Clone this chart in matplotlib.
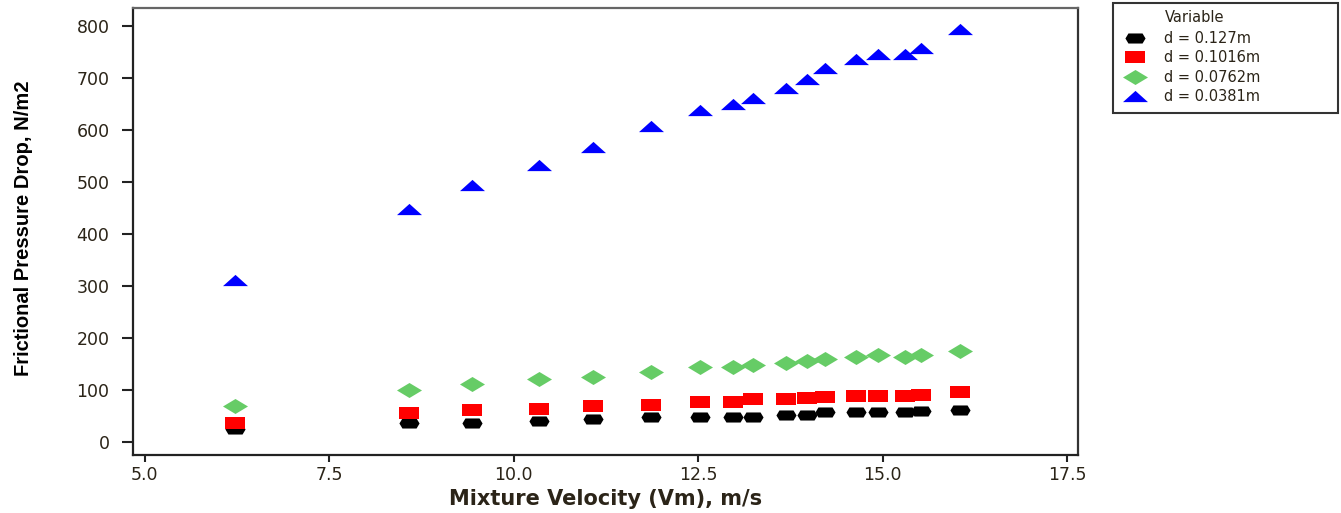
import matplotlib
matplotlib.use('Agg')
import matplotlib.pyplot as plt
from matplotlib.patches import Rectangle

#################
### DATA ###
#################

vm = [6.22, 8.58, 9.44, 10.34, 11.07, 11.86, 12.52, 12.98, 13.25,
      13.69, 13.97, 14.22, 14.64, 14.94, 15.30, 15.52, 16.05]

dp_0127 = [25, 35, 36.5, 40, 43, 47, 47, 47, 47,
           51, 51, 56, 57.5, 56, 56, 59, 61]
dp_01016 = [35, 55, 60, 63.5, 68.5, 70.5, 77, 77, 81.5,
            82, 83.5, 86.5, 88.5, 88.5, 88.5, 90, 94.5]
dp_00762 = [67.5, 99.5, 110, 121, 125, 133, 143, 144, 148,
            151, 156, 158.5, 163.5, 167, 163.5, 167, 175]
dp_00381 = [312, 447, 495, 532, 567, 607, 638, 651, 661,
            680, 698, 720, 736, 747, 747, 757, 794]

series_labels = ['d = 0.127m', 'd = 0.1016m', 'd = 0.0762m', 'd = 0.0381m']
x_ticks = [5.0, 7.5, 10.0, 12.5, 15.0, 17.5]
y_ticks = [0, 100, 200, 300, 400, 500, 600, 700, 800]

#################
### STYLE ###
#################

# squashed markers, like the minitab symbols
blob = [(-1, 0), (-0.7, 0.5), (0, 0.5), (0.7, 0.5), (1, 0), (0.7, -0.5), (0, -0.5), (-0.7, -0.5)]
rect = [(-1, -0.6), (1, -0.6), (1, 0.6), (-1, 0.6)]
diam = [(-1, 0), (0, 0.6), (1, 0), (0, -0.6)]
tri = [(-1, -0.45), (1, -0.45), (0, 0.45)]

styles = [
    (dp_0127, 'black', blob, 14.5),
    (dp_01016, '#ff0000', rect, 14.5),
    (dp_00762, '#66cc66', diam, 18),
    (dp_00381, '#0000ff', tri, 18),
]

txt_col = '#2b2418'
W, H = 1341, 513

#################
### PLOT ###
#################

fig = plt.figure(figsize=(W / 100, H / 100), dpi=100)
ax = fig.add_axes([133 / W, 1 - 455 / H, (1078 - 133) / W, (455 - 8) / H])

handles = []
for (vals, col, mk, ms), lab in zip(styles, series_labels):
    h, = ax.plot(vm, vals, linestyle='none', marker=mk, markersize=ms,
                 color=col, markeredgewidth=0, label=lab)
    handles.append(h)

ax.set_xlim(4.84, 17.65)
ax.set_ylim(-26, 835)
ax.set_xticks(x_ticks)
ax.set_xticklabels(['%.1f' % t for t in x_ticks])
ax.set_yticks(y_ticks)
ax.set_yticklabels([str(t) for t in y_ticks])

ax.tick_params(direction='out', width=1.5, colors='#222222',
               labelsize=12.5, labelcolor=txt_col)
ax.tick_params(axis='x', length=5, pad=3)
ax.tick_params(axis='y', length=8, pad=9)
for s in ax.spines.values():
    s.set_linewidth(1.6)
    s.set_color('#222222')
ax.spines['top'].set_color('#666666')
ax.spines['right'].set_color('#333333')

ax.set_xlabel('Mixture Velocity (Vm), m/s', fontsize=15, fontweight='bold',
              color=txt_col)
ax.xaxis.set_label_coords(0.5, -(489 - 455) / 447)
ax.set_ylabel('Frictional Pressure Drop, N/m2', fontsize=14.5, fontweight='bold',
              family=['Liberation Sans', 'DejaVu Sans'], color='black')
ax.yaxis.set_label_coords(-(133 - 33) / 945, 0.508)

# legend box
fig.patches.append(Rectangle((1113 / W, 1 - 113 / H), 225 / W, 110 / H,
                             transform=fig.transFigure, fill=False,
                             edgecolor='#333333', linewidth=1.5))
fig.text(1165 / W, 1 - 18 / H, 'Variable', fontsize=10.5, color=txt_col,
         ha='left', va='center')
leg = fig.legend(handles=handles, loc='upper left', bbox_to_anchor=(1123 / W, 1 - 31 / H),
                 frameon=False, fontsize=10.5, handletextpad=1.2, labelspacing=0.3,
                 handlelength=1.6, borderpad=0, borderaxespad=0)
for t in leg.get_texts():
    t.set_color(txt_col)

fig.savefig('out.png', dpi=100)
